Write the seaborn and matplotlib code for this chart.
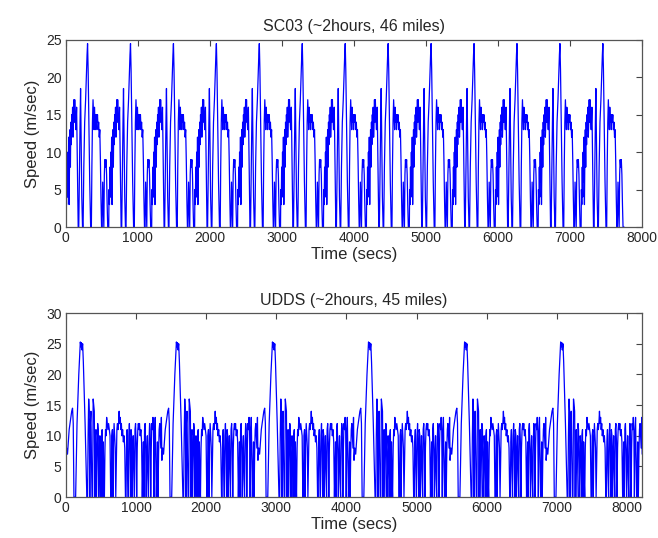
import numpy as np
import pandas as pd
import matplotlib
matplotlib.use("Agg")
import matplotlib.pyplot as plt
import seaborn as sns

# ---- SC03 single cycle (time s, speed m/s), repeated 13 times ----
sc03_cycle_t = [0, 4, 10, 16, 22, 28, 34, 40, 46, 52, 58, 64, 70, 76, 82, 88, 94, 100,
                106, 112, 118, 124, 130, 140, 150, 158, 166, 172, 180, 190, 198, 205, 212,
                222, 232, 240, 250, 262, 275, 285, 295, 302, 310, 320, 332, 345, 355, 362,
                370, 378, 385, 392, 398, 405, 412, 418, 425, 432, 440, 448, 456, 464, 472,
                480, 488, 496, 504, 512, 520, 528, 535, 542, 550, 558, 566, 574, 582, 596]
sc03_cycle_v = [0, 5, 3, 8, 4, 10, 6, 12, 3, 9, 13, 8, 14, 11, 15, 13, 16, 12,
                14, 17, 14, 17, 15, 13, 16, 10, 3, 0, 0, 8, 14, 18.5, 12,
                4, 0, 0, 8, 14, 17, 20, 23, 24.5, 21, 14, 6, 0, 0, 8,
                14, 17, 15, 13, 16, 14, 15, 13, 15, 14, 15, 13, 14, 12, 13,
                9, 4, 0, 0, 6, 3, 0, 7, 9, 8, 9, 7, 3, 0, 0]
sc03_period = 596
sc03_repeats = 13

# ---- UDDS single cycle (time s, speed m/s), repeated 6 times ----
udds_cycle_t = [0, 12, 24, 36, 48, 60, 72, 84, 96, 106, 116, 128, 140, 150, 160, 172, 185,
                197, 207, 215, 222, 230, 240, 250, 260, 275, 290, 300, 310, 318, 326, 334,
                342, 350, 358, 366, 374, 382, 390, 398, 406, 414, 422, 430, 438, 446, 454,
                462, 470, 478, 486, 494, 502, 510, 518, 526, 534, 542, 550, 558, 566, 574,
                582, 590, 600, 610, 620, 630, 640, 648, 656, 664, 672, 680, 688, 696, 704,
                712, 720, 728, 736, 744, 752, 760, 768, 776, 784, 792, 800, 810, 820, 830,
                840, 850, 858, 866, 874, 882, 890, 898, 906, 914, 922, 930, 938, 946, 954,
                962, 970, 978, 986, 994, 1002, 1010, 1018, 1026, 1034, 1042, 1050, 1060,
                1070, 1080, 1090, 1098, 1106, 1114, 1122, 1130, 1138, 1146, 1154, 1162,
                1170, 1178, 1186, 1194, 1202, 1210, 1218, 1226, 1234, 1242, 1250, 1258,
                1266, 1274, 1282, 1290, 1298, 1306, 1314, 1322, 1330, 1338, 1346, 1354,
                1362, 1369]
udds_cycle_v = [6, 8, 7, 9, 11, 12, 13, 14, 14.5, 12, 0, 0, 0, 6, 12, 16, 20,
                23, 25.3, 24.5, 25.2, 24, 25, 22, 18, 12, 5, 0, 0, 10, 16, 14,
                0, 12, 14, 6, 0, 0, 16, 15, 14, 0, 10, 11, 0, 6, 12,
                11, 0, 4, 10, 8, 0, 10, 11, 0, 9, 3, 0, 8, 11, 10,
                13, 12, 11, 12, 11, 10, 0, 0, 10, 11, 0, 9, 12, 10, 8,
                0, 6, 11, 12, 11, 12, 14, 12, 13, 11, 12, 10, 11, 9, 10,
                8, 0, 0, 9, 11, 4, 0, 10, 12, 8, 0, 11, 10, 0, 7,
                10, 4, 0, 11, 12, 9, 0, 8, 11, 12, 11, 12, 10,
                11, 9, 0, 5, 9, 0, 11, 12, 8, 0, 7, 10,
                3, 0, 9, 12, 11, 0, 8, 12, 11, 13, 11, 0,
                10, 13, 7, 0, 4, 9, 0, 7, 11, 12, 10, 8,
                13, 7]
udds_period = 1369
udds_repeats = 6

sc03_t = np.concatenate([np.array(sc03_cycle_t) + k * sc03_period for k in range(sc03_repeats)])
sc03_v = np.tile(sc03_cycle_v, sc03_repeats)
udds_t = np.concatenate([np.array(udds_cycle_t) + k * udds_period for k in range(udds_repeats)])
udds_v = np.tile(udds_cycle_v, udds_repeats)

df_sc03 = pd.DataFrame({"t": sc03_t, "v": sc03_v})
df_udds = pd.DataFrame({"t": udds_t, "v": udds_v})

sns.set_style("white")
plt.rcParams['font.family'] = ['Liberation Sans', 'DejaVu Sans']

fig = plt.figure(figsize=(6.58, 5.38), dpi=100)
ax1 = fig.add_axes([0.100, 0.578, 0.876, 0.348])
ax2 = fig.add_axes([0.100, 0.076, 0.876, 0.342])

sns.lineplot(data=df_sc03, x="t", y="v", ax=ax1, color=(0, 0, 1), lw=0.9,
             estimator=None, sort=False)
sns.lineplot(data=df_udds, x="t", y="v", ax=ax2, color=(0, 0, 1), lw=0.9,
             estimator=None, sort=False)

specs = [
    (ax1, "SC03 (~2hours, 46 miles)", (0, 8000), (0, 25), range(0, 26, 5)),
    (ax2, "UDDS (~2hours, 45 miles)", (0, 8214), (0, 30), range(0, 31, 5)),
]
for ax, title, xl, yl, yt in specs:
    ax.set_xlim(*xl)
    ax.set_ylim(*yl)
    ax.set_xticks(range(0, 8001, 1000))
    ax.set_yticks(list(yt))
    ax.set_title(title, fontsize=11.5, pad=6)
    ax.set_xlabel("Time (secs)", fontsize=12, labelpad=1)
    ax.set_ylabel("Speed (m/sec)", fontsize=12, labelpad=4)
    ax.tick_params(direction="in", top=True, right=True, length=4, width=0.8,
                   labelsize=10, color="#444444", pad=3)
    for s in ax.spines.values():
        s.set_color("#555555")
        s.set_linewidth(0.9)

fig.savefig("out.png", dpi=100)
